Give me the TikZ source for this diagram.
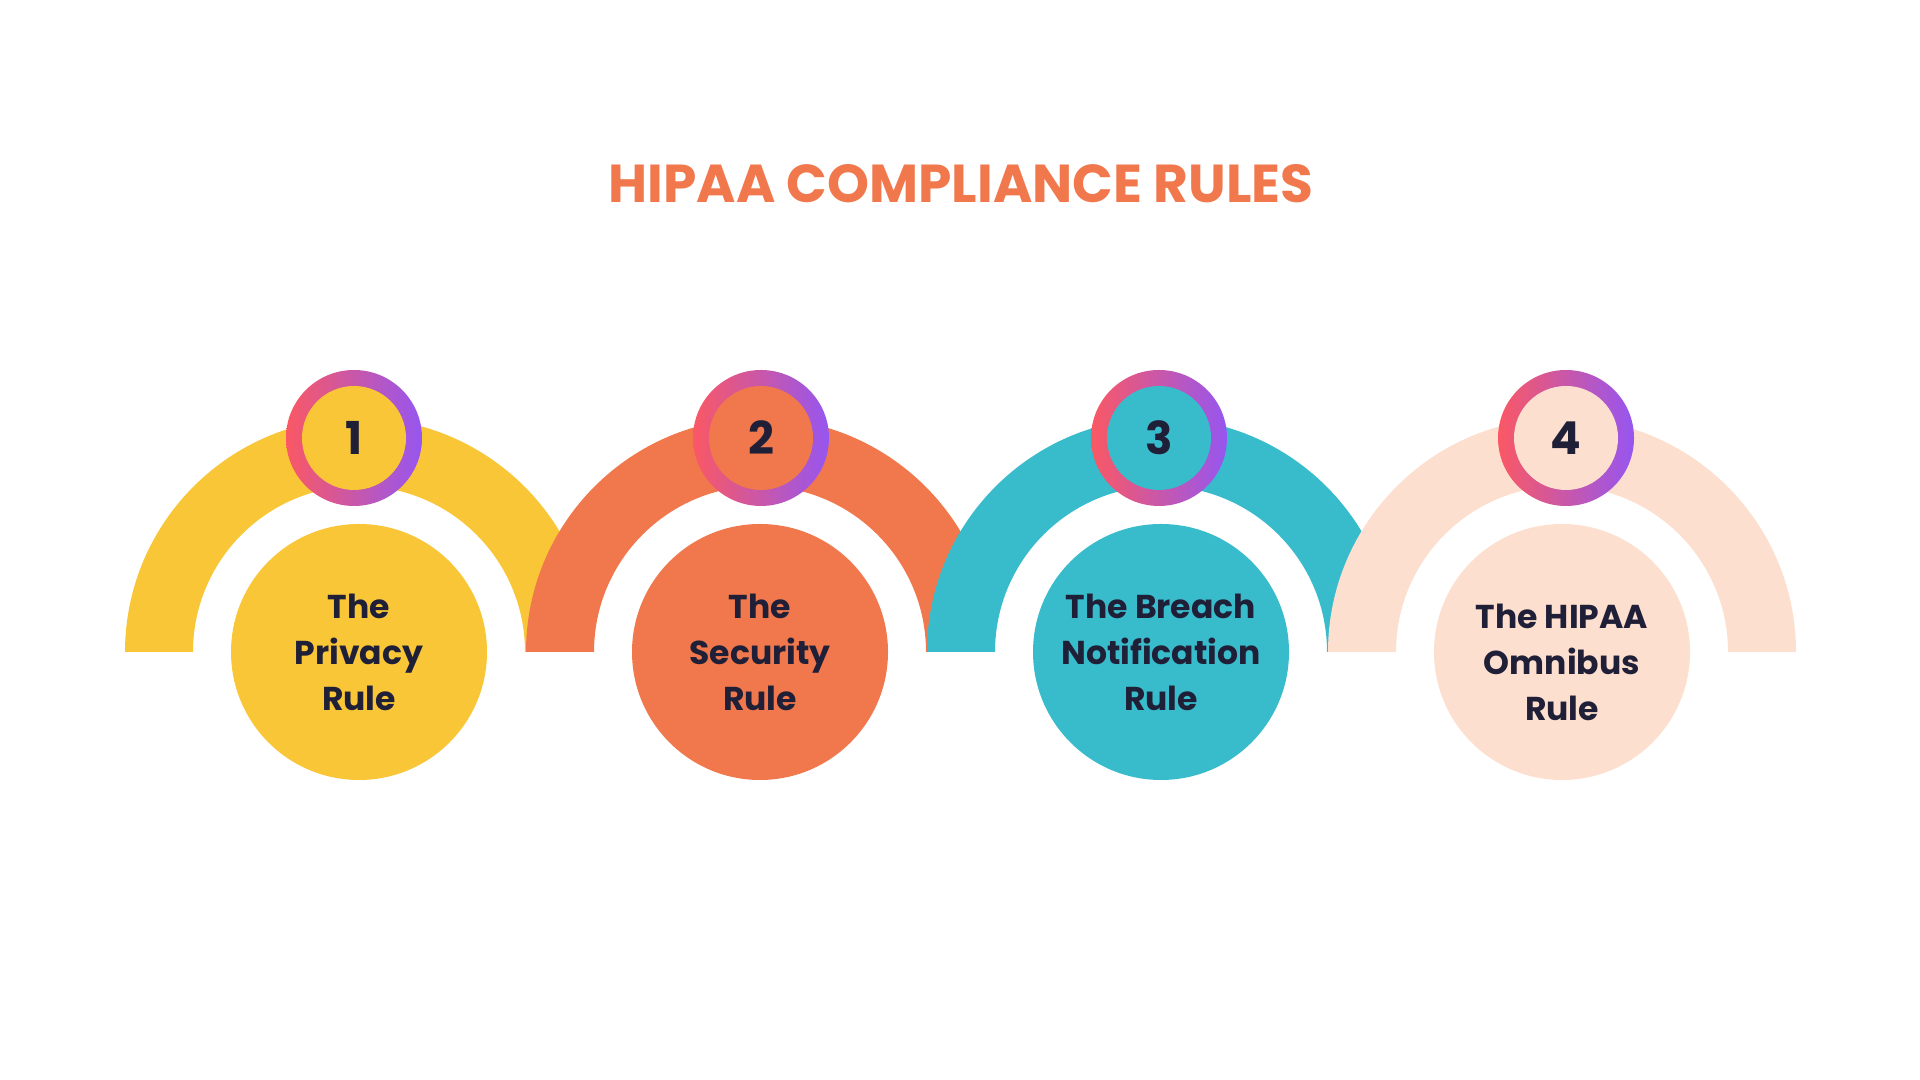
\documentclass[tikz,border=0pt]{standalone}
\usepackage{fontspec}
\setmainfont{Poppins}
\usetikzlibrary{positioning}
\definecolor{ruleyellow}{RGB}{248,198,55}
\definecolor{ruleorange}{RGB}{241,120,77}
\definecolor{ruleteal}{RGB}{56,188,204}
\definecolor{rulepeach}{RGB}{253,223,207}
\definecolor{inkdark}{RGB}{31,31,55}
\definecolor{ringred}{RGB}{250,88,100}
\definecolor{ringpurple}{RGB}{150,86,240}

\begin{document}
\begin{tikzpicture}[node distance=4.01cm, on grid,
    rule/.style={circle, minimum size=2.56cm, inner sep=0pt, align=center, text=inkdark,
      font=\bfseries\fontsize{9.4}{13.1}\selectfont},
    badge/.style={circle, minimum size=1.04cm, inner sep=0pt, text=inkdark,
      font=\bfseries\fontsize{12.9}{14}\selectfont}]
    \useasboundingbox (0,0) rectangle (19.2,10.8);
    % centres of the four half rings
    \coordinate (c1) at (3.59,4.28);
    \coordinate[right=of c1] (c2);
    \coordinate[right=of c2] (c3);
    \coordinate[right=of c3] (c4);

    \node[text=ruleorange, font=\bfseries\fontsize{15.2}{18}\selectfont, anchor=base] (title) at (9.61,8.77) {HIPAA COMPLIANCE RULES};

    \foreach \i/\col/\dx in {1/ruleyellow/-0.05, 2/ruleorange/0.01, 3/ruleteal/-0.02, 4/rulepeach/0.04} {
      \fill[\col] (c\i) ++(-2.34,0) arc[start angle=180, end angle=0, radius=2.34]
        -- ++(-0.68,0) arc[start angle=0, end angle=180, radius=1.66] -- cycle;
      \coordinate[above=2.14cm of c\i, xshift=\dx cm] (b\i);
      \shade[left color=ringred, right color=ringpurple] (b\i) circle (0.68);
      \node[badge, fill=\col] (num\i) at (b\i) {\i};
    }

    \node[rule, fill=ruleyellow] (privacy) at (c1) {The\\Privacy\\Rule};
    \node[rule, fill=ruleorange] (security) at (c2) {The\\Security\\Rule};
    \node[rule, fill=ruleteal] (breach) at (c3) {The Breach\\Notification\\Rule};
    \node[rule, fill=rulepeach] (omnibus) at (c4) {};
    \node[align=center, text=inkdark, font=\bfseries\fontsize{9.4}{13.1}\selectfont, yshift=-0.1cm] (omnibustext) at (omnibus.center) {The HIPAA\\Omnibus\\Rule};
\end{tikzpicture}
\end{document}
